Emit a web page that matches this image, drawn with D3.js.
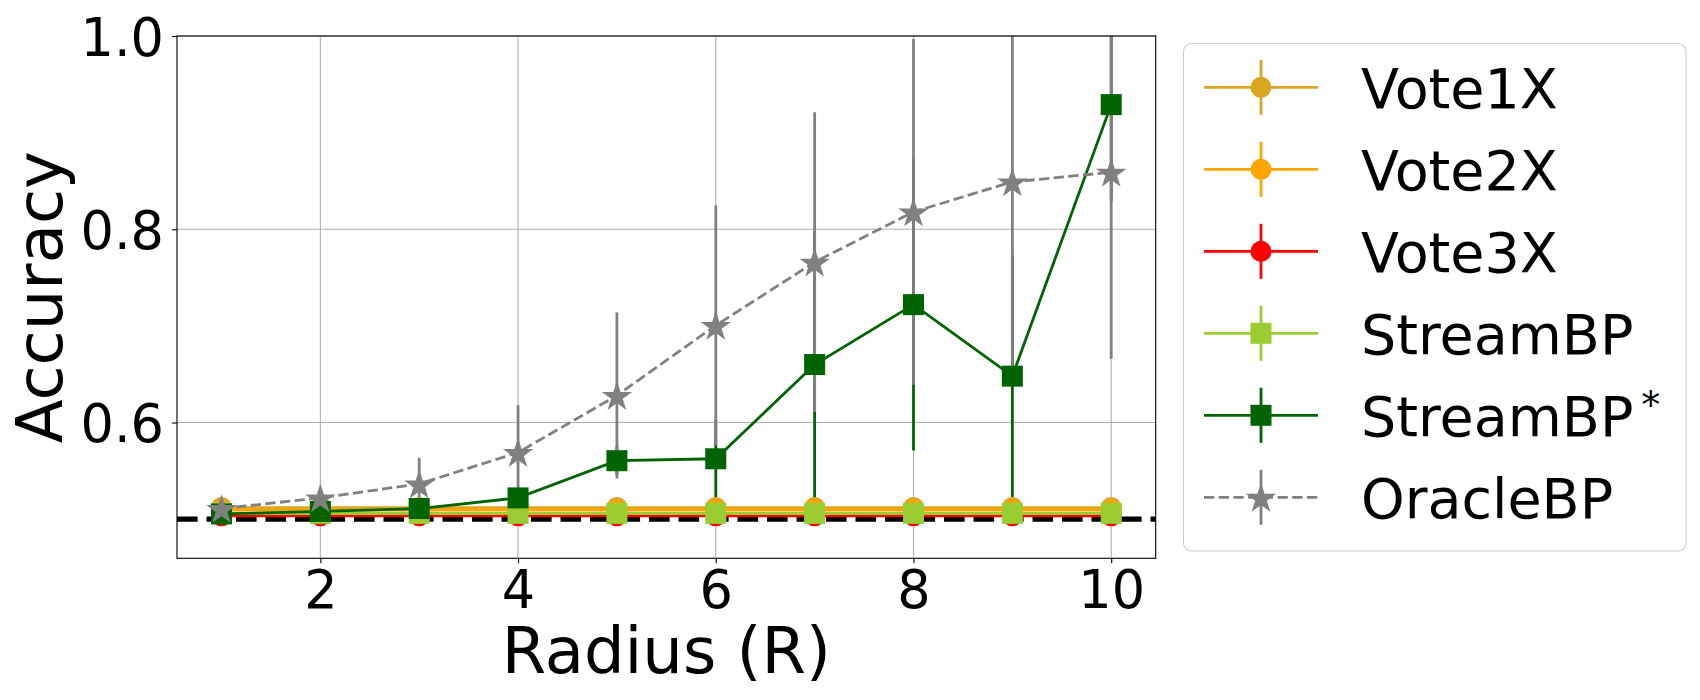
<!DOCTYPE html>
<html>
<head>
<meta charset="utf-8">
<script src="https://cdn.jsdelivr.net/npm/d3@7"></script>
<style>
  html, body { margin: 0; padding: 0; background: #fff; }
  svg text { font-family: "DejaVu Sans", sans-serif; fill: #000; }
</style>
</head>
<body>
<svg id="chart" width="1700" height="700"></svg>
<script>
// ---------------- data ----------------
const radius = [1, 2, 3, 4, 5, 6, 7, 8, 9, 10];

const vote1xMean = [0.512, 0.512, 0.512, 0.512, 0.512, 0.512, 0.512, 0.512, 0.512, 0.512];
const vote1xErr  = [0, 0, 0, 0, 0, 0, 0, 0, 0, 0];
const vote2xMean = [0.5095, 0.5095, 0.5095, 0.5095, 0.5095, 0.5095, 0.5095, 0.5095, 0.5095, 0.5095];
const vote2xErr  = [0, 0, 0, 0, 0, 0, 0, 0, 0, 0];
const vote3xMean = [0.5035, 0.5035, 0.5035, 0.5035, 0.5035, 0.5035, 0.5035, 0.5035, 0.5035, 0.5035];
const vote3xErr  = [0, 0, 0, 0, 0, 0, 0, 0, 0, 0];
const streamMean = [0.506, 0.506, 0.506, 0.506, 0.506, 0.506, 0.506, 0.506, 0.506, 0.506];
const streamErr  = [0, 0, 0, 0, 0, 0, 0, 0, 0, 0];
const streamStarMean = [0.5054, 0.508, 0.511, 0.522, 0.5605, 0.5625, 0.660, 0.722, 0.648, 0.929];
const streamStarErr  = [0.002, 0.004, 0.006, 0.01, 0.015, 0.04, 0.139, 0.151, 0.125, 0.1];
const oracleMean = [0.511, 0.522, 0.5365, 0.569, 0.628, 0.7005, 0.766, 0.818, 0.849, 0.859];
const oracleErr  = [0.002, 0.008, 0.027, 0.049, 0.086, 0.124, 0.155, 0.179, 0.195, 0.193];

const xTicks = [2, 4, 6, 8, 10];
const yTicks = [0.6, 0.8, 1.0];
const baseline = 0.5;

const seriesNames  = ["Vote1X", "Vote2X", "Vote3X", "StreamBP", "StreamBP*", "OracleBP"];
const seriesColors = ["#DAA520", "#FFA500", "#FF0000", "#9ACD32", "#006400", "#808080"];
const seriesMarkers = ["circle", "circle", "circle", "square", "square", "star"];
const seriesDashed = [false, false, false, false, false, true];
const seriesMeans = [vote1xMean, vote2xMean, vote3xMean, streamMean, streamStarMean, oracleMean];
const seriesErrs  = [vote1xErr, vote2xErr, vote3xErr, streamErr, streamStarErr, oracleErr];

// ---------------- layout ----------------
const plot = { left: 177, right: 1155.7, top: 36, bottom: 558.3 };
const svg = d3.select("#chart");

const x = d3.scaleLinear().domain([0.55, 10.45]).range([plot.left, plot.right]);
const y = d3.scaleLinear().domain([0.4595, 1.0]).range([plot.bottom, plot.top]);

const series = seriesNames.map((name, i) => ({
  name, color: seriesColors[i], marker: seriesMarkers[i], dashed: seriesDashed[i],
  points: radius.map((r, j) => ({ r, m: seriesMeans[i][j], e: seriesErrs[i][j] }))
}));

svg.append("defs").append("clipPath").attr("id", "clip")
  .append("rect").attr("x", plot.left).attr("y", plot.top)
  .attr("width", plot.right - plot.left).attr("height", plot.bottom - plot.top);

// grid
const grid = svg.append("g");
grid.selectAll(".gx").data(xTicks).join("line")
  .attr("x1", d => x(d)).attr("x2", d => x(d))
  .attr("y1", plot.top).attr("y2", plot.bottom)
  .attr("stroke", "#b0b0b0").attr("stroke-width", 1.1);
grid.selectAll(".gy").data(yTicks).join("line")
  .attr("x1", plot.left).attr("x2", plot.right)
  .attr("y1", d => y(d)).attr("y2", d => y(d))
  .attr("stroke", "#b0b0b0").attr("stroke-width", 1.1);

const data = svg.append("g").attr("clip-path", "url(#clip)");

// baseline 0.5
data.append("line")
  .attr("x1", plot.left).attr("x2", plot.right)
  .attr("y1", y(baseline)).attr("y2", y(baseline))
  .attr("stroke", "#000").attr("stroke-width", 5.2)
  .attr("stroke-dasharray", "20.6,8.9");

// error bars (all series, below lines)
series.forEach(s => {
  data.append("g").selectAll("line").data(s.points.filter(p => p.e > 0)).join("line")
    .attr("x1", p => x(p.r)).attr("x2", p => x(p.r))
    .attr("y1", p => y(p.m - p.e)).attr("y2", p => y(p.m + p.e))
    .attr("stroke", s.color).attr("stroke-width", 2.8);
});

// star path
function starPath(R) {
  const r = R * 0.381966;
  const pts = [];
  for (let k = 0; k < 10; k++) {
    const rad = k % 2 === 0 ? R : r;
    const a = -Math.PI / 2 + k * Math.PI / 5;
    pts.push([rad * Math.cos(a), rad * Math.sin(a)]);
  }
  return "M" + pts.map(p => p[0].toFixed(2) + "," + p[1].toFixed(2)).join("L") + "Z";
}

function drawMarker(g, type, cx, cy, color) {
  if (type === "circle") {
    g.append("circle").attr("cx", cx).attr("cy", cy).attr("r", 10.5).attr("fill", color);
  } else if (type === "square") {
    g.append("rect").attr("x", cx - 10.5).attr("y", cy - 10.5)
      .attr("width", 21).attr("height", 21).attr("fill", color);
  } else {
    g.append("path").attr("d", starPath(16)).attr("transform", `translate(${cx},${cy + 1.5})`)
      .attr("fill", color);
  }
}

const line = d3.line().x(p => x(p.r)).y(p => y(p.m));

// data lines + markers
series.forEach(s => {
  const g = data.append("g");
  g.append("path").datum(s.points).attr("d", line)
    .attr("fill", "none").attr("stroke", s.color).attr("stroke-width", 2.8)
    .attr("stroke-dasharray", s.dashed ? "10.3,4.4" : null);
  s.points.forEach(p => drawMarker(g, s.marker, x(p.r), y(p.m), s.color));
});

// axes frame
svg.append("rect").attr("x", plot.left).attr("y", plot.top)
  .attr("width", plot.right - plot.left).attr("height", plot.bottom - plot.top)
  .attr("fill", "none").attr("stroke", "#000").attr("stroke-width", 1.1);

// x axis ticks
const xAxis = svg.append("g").attr("transform", `translate(0,${plot.bottom})`)
  .call(d3.axisBottom(x).tickValues(xTicks).tickSize(4.9).tickPadding(7).tickFormat(d3.format("d")));
xAxis.select(".domain").remove();
xAxis.selectAll(".tick line").attr("stroke", "#000").attr("stroke-width", 1.1);
xAxis.selectAll(".tick text").attr("font-size", 52.5).attr("font-family", "DejaVu Sans")
  .attr("dy", null).attr("y", 50).attr("fill", "#000");

// y axis ticks
const yAxis = svg.append("g").attr("transform", `translate(${plot.left},0)`)
  .call(d3.axisLeft(y).tickValues(yTicks).tickSize(4.9).tickPadding(9).tickFormat(d3.format(".1f")));
yAxis.select(".domain").remove();
yAxis.selectAll(".tick line").attr("stroke", "#000").attr("stroke-width", 1.1);
yAxis.selectAll(".tick text").attr("font-size", 52.5).attr("font-family", "DejaVu Sans")
  .attr("dy", "0.365em").attr("x", -13).attr("fill", "#000");

// axis labels
svg.append("text").attr("x", (plot.left + plot.right) / 2).attr("y", 673)
  .attr("text-anchor", "middle").attr("font-size", 64).text("Radius (R)");
svg.append("text").attr("transform", `translate(62,${(plot.top + plot.bottom) / 2}) rotate(-90)`)
  .attr("text-anchor", "middle").attr("font-size", 64).text("Accuracy");

// legend
const leg = svg.append("g");
leg.append("rect").attr("x", 1183.5).attr("y", 43.5).attr("width", 502.5).attr("height", 507.5)
  .attr("rx", 8).attr("fill", "#fff").attr("fill-opacity", 0.8)
  .attr("stroke", "#cccccc").attr("stroke-width", 1.1);

series.forEach((s, i) => {
  const cy = 87.3 + 82 * i;
  const g = leg.append("g");
  g.append("line").attr("x1", 1204).attr("x2", 1318).attr("y1", cy).attr("y2", cy)
    .attr("stroke", s.color).attr("stroke-width", 2.8)
    .attr("stroke-dasharray", s.dashed ? "10.3,4.4" : null);
  g.append("line").attr("x1", 1261).attr("x2", 1261).attr("y1", cy - 27.5).attr("y2", cy + 27.5)
    .attr("stroke", s.color).attr("stroke-width", 2.8);
  drawMarker(g, s.marker, 1261, cy, s.color);
  const t = g.append("text").attr("x", 1361).attr("y", cy + 20.2).attr("font-size", 55.5);
  if (s.name.endsWith("*")) {
    t.append("tspan").text(s.name.slice(0, -1));
    t.append("tspan").attr("font-size", 38).attr("dx", 8).attr("dy", -18).text("*");
  } else {
    t.text(s.name);
  }
});
</script>
</body>
</html>
